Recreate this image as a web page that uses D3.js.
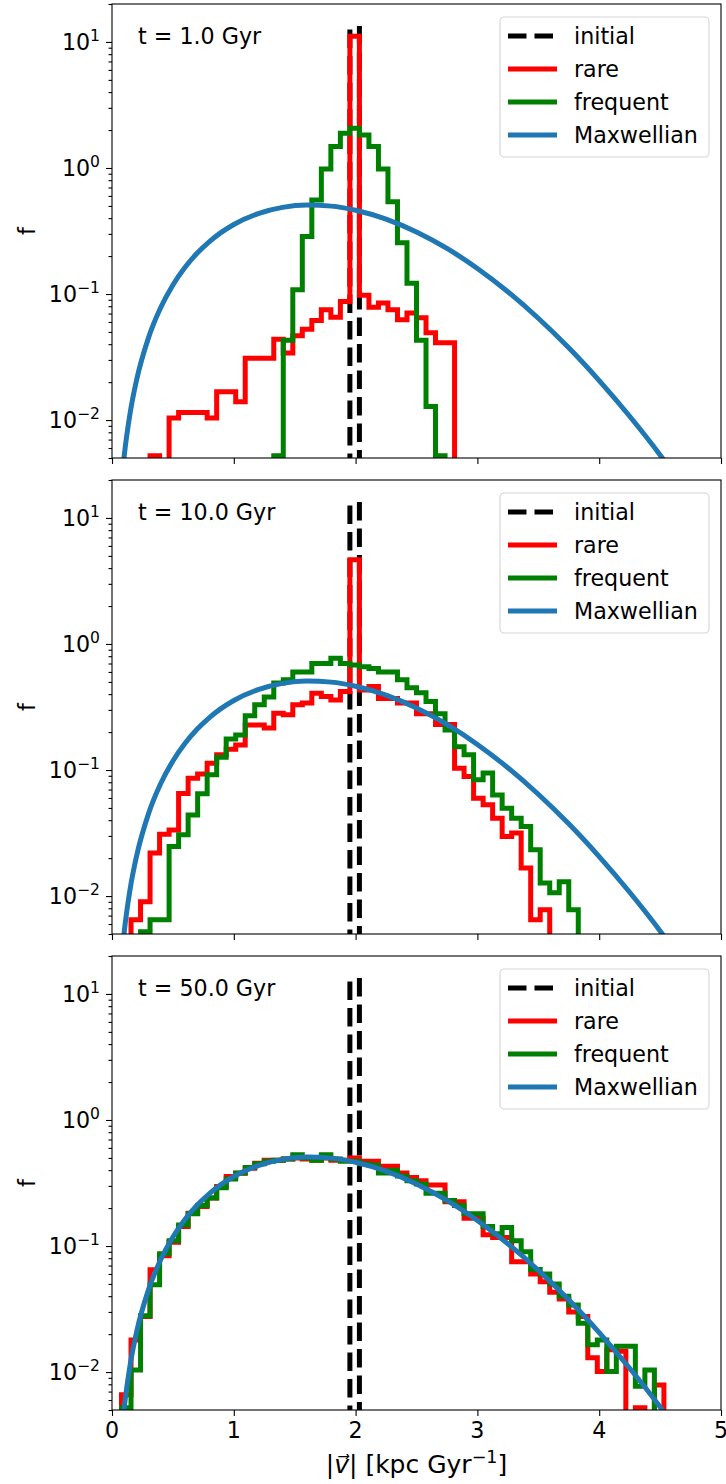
<!DOCTYPE html>
<html>
<head>
<meta charset="utf-8">
<script src="https://cdn.jsdelivr.net/npm/d3@7"></script>
<style>
body { margin: 0; background: #fff; }
text { font-family: "DejaVu Sans", sans-serif; }
</style>
</head>
<body>
<svg id="chart" width="726" height="1484"></svg>
<script>
// 64 bins over [0, 5] kpc/Gyr
var binEdges = d3.range(65).map(function (i) { return i * 5 / 64; });
var panelTimes = ["t = 1.0 Gyr", "t = 10.0 Gyr", "t = 50.0 Gyr"];
var legendNames = ["initial", "rare", "frequent", "Maxwellian"];
var xTicks = [0, 1, 2, 3, 4, 5];
var yTicks = [0.01, 0.1, 1, 10];
var yTickExp = ["\u22122", "\u22121", "0", "1"];

// initial distribution: everything in the bin around |v| = 2
var initialF = [0,0,0,0,0,0,0,0,0,0, 0,0,0,0,0,0,0,0,0,0, 0,0,0,0,0,12.8,0,0,0,0,
  0,0,0,0,0,0,0,0,0,0, 0,0,0,0,0,0,0,0,0,0, 0,0,0,0,0,0,0,0,0,0, 0,0,0,0];

// t = 1 Gyr
var rare1 = [0,0,0,0,0.0052,0,0.0104,0.0115,0.0115,0.0115, 0.0104,0.0168,0.0168,0.014,0.031,0.031,0.031,0.0438,0.034,0.0466,
  0.0526,0.0617,0.0749,0.0655,0.0871,11.1,0.098,0.0787,0.085,0.075, 0.0624,0.0708,0.0647,0.0492,0.041,0.041,0,0,0,0,
  0,0,0,0,0,0,0,0,0,0, 0,0,0,0,0,0,0,0,0,0, 0,0,0,0];
var frequent1 = [0,0,0,0,0,0,0,0,0,0, 0,0,0,0,0,0,0,0.0052,0.043,0.108,
  0.286,0.558,0.98,1.48,1.89,2.07,1.83,1.48,0.98,0.54, 0.255,0.122,0.043,0.0128,0.0052,0,0,0,0,0,
  0,0,0,0,0,0,0,0,0,0, 0,0,0,0,0,0,0,0,0,0, 0,0,0,0];

// t = 10 Gyr
var rare10 = [0,0,0.0065,0.009,0.022,0.031,0.0335,0.065,0.086,0.093, 0.113,0.132,0.146,0.158,0.228,0.228,0.215,0.282,0.275,0.33,
  0.34,0.406,0.383,0.36,0.419,4.65,0.432,0.459,0.37,0.37, 0.34,0.34,0.28,0.28,0.23,0.23,0.1035,0.0887,0.0598,0.053,
  0.0415,0.0297,0.0316,0.0167,0.0065,0.0078,0,0,0,0, 0,0,0,0,0,0,0,0,0,0, 0,0,0,0];
var frequent10 = [0,0,0,0.0052,0.0065,0.0065,0.0247,0.0306,0.044,0.0647, 0.0916,0.126,0.176,0.19,0.27,0.33,0.38,0.49,0.52,0.6,
  0.6,0.7,0.7,0.77,0.7,0.68,0.66,0.64,0.6,0.6, 0.52,0.45,0.41,0.35,0.28,0.208,0.153,0.132,0.0836,0.0945,
  0.0635,0.0498,0.0415,0.0357,0.0233,0.0127,0.0106,0.013,0.0078,0, 0,0,0,0,0,0,0,0,0,0, 0,0,0,0];

// t = 50 Gyr
var rare50 = [0,0.0066,0.018,0.0276,0.0647,0.0836,0.107,0.143,0.182,0.206, 0.24,0.296,0.356,0.378,0.414,0.454,0.48,0.48,0.49,0.5,
  0.49,0.48,0.5,0.48,0.48,0.5,0.47,0.47,0.43,0.43, 0.38,0.35,0.33,0.305,0.305,0.225,0.225,0.166,0.166,0.123,
  0.117,0.117,0.075,0.075,0.06,0.052,0.043,0.038,0.03,0.0276, 0.013,0.0101,0.015,0.0146,0,0.0052,0,0.0079,0,0, 0,0,0,0];
var frequent50 = [0,0.0052,0.0104,0.028,0.0492,0.087,0.11,0.147,0.18,0.21, 0.24,0.29,0.34,0.38,0.42,0.45,0.47,0.48,0.49,0.53,
  0.5,0.48,0.53,0.49,0.47,0.47,0.45,0.44,0.38,0.4, 0.36,0.33,0.31,0.262,0.262,0.23,0.21,0.18,0.18,0.143,
  0.125,0.14,0.11,0.09,0.065,0.06,0.05,0.04,0.034,0.0244, 0.0165,0.018,0.0101,0.016,0.016,0.0077,0.0104,0,0,0, 0,0,0,0];

// Maxwellian curve, points
var maxwellV = [0.08,0.1,0.15,0.2,0.3,0.4,0.5,0.6,0.7,0.8,1.0,1.2,1.4,1.6,1.8,2.0,2.25,2.5,2.75,3.0,3.25,3.5,3.75,4.0,4.25,4.5,4.6];
var maxwellF = [0.0033,0.00516,0.01156,0.02042,0.04509,0.07809,0.118,0.163,0.2113,0.2609,0.3562,0.4348,0.487,0.508,0.4982,0.4625,
  0.393,0.3108,0.23,0.1596,0.1043,0.06423,0.03739,0.02055,0.01072,0.00529,0.0039];

var panelRare = [rare1, rare10, rare50];
var panelFrequent = [frequent1, frequent10, frequent50];

var colInitial = "#000000", colRare = "#ff0000", colFrequent = "#008000", colMaxwell = "#1f77b4";
var lw = 5;
var dash = "18.5,8";

var left = 112, plotW = 609, plotH = 454;
var panelTop = [4, 480, 956];
var fontSize = 22.2;

var svg = d3.select("#chart");

var x = d3.scaleLinear().domain([0, 5]).range([left, left + plotW]);

function stepPoints(vals) {
  var pts = [[binEdges[0], 0]];
  for (var i = 0; i < vals.length; i++) {
    pts.push([binEdges[i], vals[i]]);
    pts.push([binEdges[i + 1], vals[i]]);
  }
  pts.push([binEdges[64], 0]);
  return pts;
}

panelTop.forEach(function (top, p) {
  var y = d3.scaleLog().domain([0.005, 20]).range([top + plotH, top]);
  var yv = function (v) { return v > 0 ? y(v) : top + plotH + 200; };

  var g = svg.append("g");
  g.append("clipPath").attr("id", "clip" + p)
    .append("rect").attr("x", left).attr("y", top).attr("width", plotW).attr("height", plotH);

  var plot = g.append("g").attr("clip-path", "url(#clip" + p + ")");
  var step = d3.line().x(function (d) { return x(d[0]); }).y(function (d) { return yv(d[1]); });

  plot.append("path").attr("d", step(stepPoints(initialF)))
    .attr("fill", "none").attr("stroke", colInitial).attr("stroke-width", lw)
    .attr("stroke-dasharray", dash);
  plot.append("path").attr("d", step(stepPoints(panelRare[p])))
    .attr("fill", "none").attr("stroke", colRare).attr("stroke-width", lw)
    .attr("stroke-linejoin", "miter");
  plot.append("path").attr("d", step(stepPoints(panelFrequent[p])))
    .attr("fill", "none").attr("stroke", colFrequent).attr("stroke-width", lw)
    .attr("stroke-linejoin", "miter");

  var maxLine = d3.line().curve(d3.curveMonotoneX)
    .x(function (d) { return x(d); })
    .y(function (d, i) { return y(maxwellF[i]); });
  plot.append("path").attr("d", maxLine(maxwellV))
    .attr("fill", "none").attr("stroke", colMaxwell).attr("stroke-width", lw);

  // axes
  g.append("g").attr("transform", "translate(" + left + ",0)")
    .call(d3.axisLeft(y).tickValues(yTicks).tickSize(6).tickFormat(""));
  var minor = [];
  [0.001, 0.01, 0.1, 1, 10].forEach(function (d) {
    for (var k = 2; k <= 9; k++) { var v = d * k; if (v >= 0.005 && v <= 20) minor.push(v); }
  });
  g.append("g").attr("transform", "translate(" + left + ",0)")
    .call(d3.axisLeft(y).tickValues(minor).tickSize(3.5).tickFormat(""));
  g.append("g").attr("transform", "translate(0," + (top + plotH) + ")")
    .call(d3.axisBottom(x).tickValues(xTicks).tickSize(6).tickFormat(""));

  g.selectAll(".domain").remove();
  g.selectAll(".tick line").attr("stroke", "#000").attr("stroke-width", 1.1);

  // frame
  g.append("rect").attr("x", left).attr("y", top).attr("width", plotW).attr("height", plotH)
    .attr("fill", "none").attr("stroke", "#000").attr("stroke-width", 1.1);

  // y tick labels 10^k
  yTicks.forEach(function (t, i) {
    var tx = g.append("text").attr("x", left - 12).attr("y", y(t) + 8)
      .attr("text-anchor", "end").attr("font-size", fontSize);
    tx.append("tspan").text("10");
    tx.append("tspan").attr("dy", -9).attr("font-size", fontSize * 0.7).text(yTickExp[i]);
  });

  if (p === 2) {
    xTicks.forEach(function (t) {
      g.append("text").attr("x", x(t)).attr("y", top + plotH + 28)
        .attr("text-anchor", "middle").attr("font-size", fontSize).text(t);
    });
  }

  // y label
  g.append("text").attr("transform", "translate(35," + (top + plotH / 2) + ") rotate(-90)")
    .attr("text-anchor", "middle").attr("font-size", fontSize).text("f");

  // time label
  g.append("text").attr("x", 138).attr("y", top + 40).attr("font-size", fontSize).text(panelTimes[p]);

  // legend
  var lg = g.append("g").attr("transform", "translate(500," + (top + 13) + ")");
  lg.append("rect").attr("x", 0).attr("y", 0).attr("width", 209).attr("height", 140)
    .attr("rx", 4).attr("fill", "#fff").attr("fill-opacity", 0.8)
    .attr("stroke", "#d6d6d6").attr("stroke-width", 1.1);
  var lcol = [colInitial, colRare, colFrequent, colMaxwell];
  legendNames.forEach(function (name, i) {
    var cy = 19 + i * 33;
    var ln = lg.append("line").attr("x1", 8).attr("x2", 57).attr("y1", cy).attr("y2", cy)
      .attr("stroke", lcol[i]).attr("stroke-width", lw);
    if (i === 0) ln.attr("stroke-dasharray", dash);
    lg.append("text").attr("x", 74).attr("y", cy + 8).attr("font-size", fontSize).text(name);
  });
});

// x label
var xl = svg.append("text").attr("x", x(2.5)).attr("y", 1473).attr("text-anchor", "middle")
  .attr("font-size", 25);
xl.append("tspan").text("|");
xl.append("tspan").attr("font-style", "italic").text("v\u20D7");
xl.append("tspan").text("| [kpc Gyr");
xl.append("tspan").attr("dy", -10).attr("font-size", 25 * 0.7).text("\u22121");
xl.append("tspan").attr("dy", 10).text("]");
</script>
</body>
</html>
